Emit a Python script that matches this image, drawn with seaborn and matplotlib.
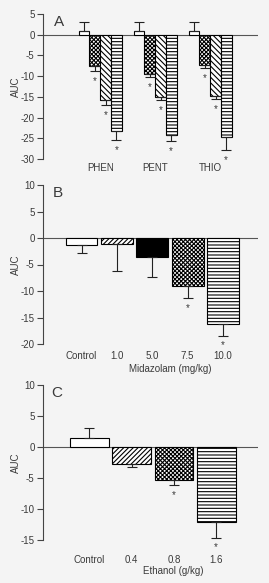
import matplotlib
matplotlib.use('Agg')
import matplotlib.pyplot as plt
import pandas as pd
import numpy as np
import seaborn as sns

# Panel A: drugs x dose groups
drugs_a = ['PHEN', 'PENT', 'THIO']
groups_a = ['g1', 'g2', 'g3', 'g4']
auc_a = {'g1': [0.8, 0.8, 0.8],
         'g2': [-7.5, -9.5, -7.3],
         'g3': [-15.8, -15.0, -14.8],
         'g4': [-23.3, -24.1, -24.7]}
err_a = {'g1': [2.2, 2.2, 2.2],
         'g2': [1.3, 0.7, 0.8],
         'g3': [1.2, 0.8, 0.8],
         'g4': [2.2, 1.5, 3.1]}
star_a = {'g1': [False] * 3, 'g2': [True] * 3, 'g3': [True] * 3, 'g4': [True] * 3}

# Panel B: midazolam
doses_b = ['Control', '1.0', '5.0', '7.5', '10.0']
auc_b = [-1.4, -1.1, -3.6, -9.0, -16.2]
err_b = [1.5, 5.1, 3.7, 2.4, 2.2]
star_b = [False, False, False, True, True]

# Panel C: ethanol
doses_c = ['Control', '0.4', '0.8', '1.6']
auc_c = [1.5, -2.8, -5.3, -12.1]
err_c = [1.6, 0.5, 0.8, 2.5]
star_c = [False, False, True, True]

bg = '#f4f4f4'
txt = '#3a3a3a'
plt.rcParams['font.family'] = ['Liberation Sans', 'DejaVu Sans']
plt.rcParams['hatch.linewidth'] = 0.8
plt.rcParams['axes.edgecolor'] = '#444444'

fig = plt.figure(figsize=(2.69, 5.83), dpi=100, facecolor=bg)
W, H = 269, 583
FS = 7


def make_ax(top, bottom):
    ax = fig.add_axes([43 / W, 1 - bottom / H, 215 / W, (bottom - top) / H])
    ax.set_facecolor(bg)
    return ax


def style(ax, ylim, ticks, pad):
    ax.set_ylim(*ylim)
    ax.set_yticks(ticks)
    ax.set_yticklabels([str(t) for t in ticks])
    for s in ['top', 'right', 'bottom']:
        ax.spines[s].set_visible(False)
    ax.spines['left'].set_linewidth(0.8)
    ax.axhline(0, color='#555555', lw=0.8, zorder=0)
    ax.tick_params(axis='y', direction='out', length=4, width=0.8,
                   labelsize=FS, colors='#444444', labelcolor=txt, pad=2)
    ax.tick_params(axis='x', length=0, labelsize=FS, labelcolor=txt, pad=pad)
    ax.set_ylabel('AUC', fontsize=FS, color=txt)
    ax.yaxis.set_label_coords(-22 / 215, 0.5)


def add_err(ax, bars, vals, errs, stars):
    for b, v, e, s in zip(bars, vals, errs, stars):
        xc = b.get_x() + b.get_width() / 2
        if v >= 0:
            yerr = [[0], [e]]
        else:
            yerr = [[e], [0]]
        ax.errorbar(xc, v, yerr=yerr, fmt='none', ecolor='#222222',
                    elinewidth=0.8, capsize=3.5, capthick=0.8, zorder=3)
        if s:
            ax.annotate('*', (xc, v - e), xytext=(0, -3.5), textcoords='offset points',
                        ha='center', va='top', fontsize=FS, color=txt)


# ---------- A ----------
ax = make_ax(14, 159)
rows = []
for g in groups_a:
    for d, v in zip(drugs_a, auc_a[g]):
        rows.append({'drug': d, 'group': g, 'auc': v})
df_a = pd.DataFrame(rows)
sns.barplot(data=df_a, x='drug', y='auc', hue='group', order=drugs_a, hue_order=groups_a,
            errorbar=None, width=0.78, edgecolor='black', linewidth=0.8,
            palette=['white'] * 4, legend=False, ax=ax, zorder=2)
hatches_a = ['', 'xxxxxxxx', '\\\\\\\\\\\\', '-----']
for cont, g, h in zip(ax.containers, groups_a, hatches_a):
    for b in cont:
        b.set_hatch(h)
    add_err(ax, cont, auc_a[g], err_a[g], star_a[g])
ax.set_xlim(-1.04, 2.87)
style(ax, (-30, 5), [5, 0, -5, -10, -15, -20, -25, -30], 3)
ax.set_xlabel('')
ax.text((59 - 43) / 215, (159 - 22) / 145, 'A', transform=ax.transAxes,
        ha='center', va='center', fontsize=11, color=txt)

# ---------- B ----------
ax = make_ax(185, 344)
df_b = pd.DataFrame({'dose': doses_b, 'auc': auc_b})
sns.barplot(data=df_b, x='dose', y='auc', order=doses_b, errorbar=None, width=0.9,
            color='white', edgecolor='black', linewidth=0.8, ax=ax, zorder=2)
bars = ax.containers[0]
hatches_b = ['', '///////', '', 'xxxxxxxx', '-----']
for b, h in zip(bars, hatches_b):
    b.set_hatch(h)
bars[2].set_facecolor('black')
add_err(ax, bars, auc_b, err_b, star_b)
ax.set_xlim(-1.09, 4.99)
style(ax, (-20, 10), [10, 5, 0, -5, -10, -15, -20], 5)
ax.set_xlabel('Midazolam (mg/kg)', fontsize=FS, color=txt)
ax.xaxis.set_label_coords((170 - 43) / 215, -20 / 159)
ax.text((58 - 43) / 215, (344 - 193) / 159, 'B', transform=ax.transAxes,
        ha='center', va='center', fontsize=11, color=txt)

# ---------- C ----------
ax = make_ax(385, 540)
df_c = pd.DataFrame({'dose': doses_c, 'auc': auc_c})
sns.barplot(data=df_c, x='dose', y='auc', order=doses_c, errorbar=None, width=0.92,
            color='white', edgecolor='black', linewidth=0.8, ax=ax, zorder=2)
bars = ax.containers[0]
hatches_c = ['', '///////', 'xxxxxxxx', '-----']
for b, h in zip(bars, hatches_c):
    b.set_hatch(h)
add_err(ax, bars, auc_c, err_c, star_c)
ax.set_xlim(-1.1, 3.99)
style(ax, (-15, 10), [10, 5, 0, -5, -10, -15], 11)
ax.set_xlabel('Ethanol (g/kg)', fontsize=FS, color=txt)
ax.xaxis.set_label_coords((173 - 43) / 215, -26 / 155)
ax.text((57 - 43) / 215, (540 - 393) / 155, 'C', transform=ax.transAxes,
        ha='center', va='center', fontsize=11, color=txt)

fig.savefig('out.png', dpi=100, facecolor=bg)
